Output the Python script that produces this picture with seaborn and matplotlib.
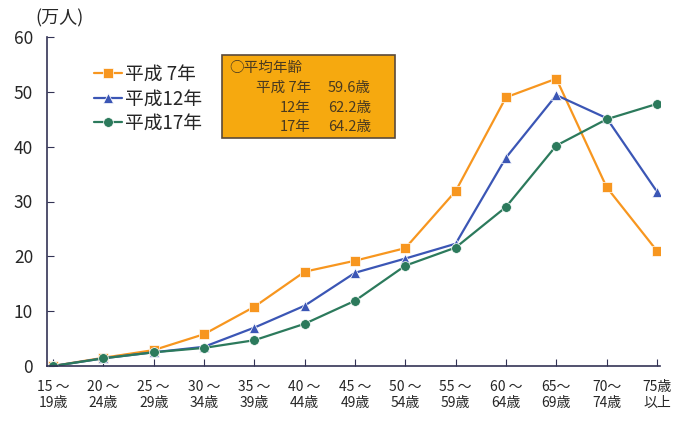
import matplotlib
matplotlib.use("Agg")
import matplotlib.pyplot as plt
import pandas as pd
import seaborn as sns
from matplotlib.patches import Rectangle

# age groups (x tick labels)
age_labels = ["15 ～\n19歳", "20 ～\n24歳", "25 ～\n29歳", "30 ～\n34歳",
              "35 ～\n39歳", "40 ～\n44歳", "45 ～\n49歳", "50 ～\n54歳",
              "55 ～\n59歳", "60 ～\n64歳", "65～\n69歳", "70～\n74歳",
              "75歳\n以上"]

# farm workers by age group (万人)
h7 = [0.0, 1.5, 2.9, 5.8, 10.8, 17.2, 19.2, 21.5, 31.9, 49.0, 52.4, 32.6, 21.0]
h12 = [0.0, 1.4, 2.5, 3.5, 7.0, 11.0, 17.0, 19.6, 22.3, 38.0, 49.4, 45.2, 31.8]
h17 = [0.0, 1.4, 2.5, 3.3, 4.7, 7.7, 11.9, 18.3, 21.6, 29.0, 40.2, 45.0, 47.8]

series_names = ["平成 7年", "平成12年", "平成17年"]
avg_age_years = ["平成 7年", "12年", "17年"]
avg_age_vals = ["59.6歳", "62.2歳", "64.2歳"]

palette = {"平成 7年": "#f7961f", "平成12年": "#3b56b5", "平成17年": "#2c7a5c"}
markers = {"平成 7年": "s", "平成12年": "^", "平成17年": "o"}

rows = []
for name, vals in zip(series_names, [h7, h12, h17]):
    for i, v in enumerate(vals):
        rows.append({"age": i, "value": v, "year": name})
df = pd.DataFrame(rows)

sns.set_style("white")
plt.rcParams['font.family'] = ['Noto Sans CJK JP', 'DejaVu Sans']

fig = plt.figure(figsize=(6.82, 4.24), dpi=100)
ax = fig.add_axes([47 / 682, 1 - 366 / 424, 613 / 682, 329 / 424])

sns.lineplot(data=df, x="age", y="value", hue="year", style="year",
             palette=palette, markers=markers, dashes=False,
             linewidth=1.6, markersize=7, markeredgewidth=0.5,
             hue_order=series_names, style_order=series_names, ax=ax)

ax.set_xlim(-0.12, 12.06)
ax.set_ylim(0, 60)
ax.set_yticks(range(0, 61, 10))
ax.set_xticks(range(len(age_labels)))
ax.set_xticklabels(age_labels, fontsize=10, linespacing=1.15)
ax.tick_params(axis='y', labelsize=12.5, direction='in', length=5, pad=10,
               left=True, color='#333355')
ax.tick_params(axis='x', direction='in', length=5, pad=10, bottom=True,
               color='#333355')
ax.set_xlabel("")
ax.set_ylabel("")
for s in ['top', 'right']:
    ax.spines[s].set_visible(False)
for s in ['left', 'bottom']:
    ax.spines[s].set_color('#333355')
    ax.spines[s].set_linewidth(1.2)

handles, labels = ax.get_legend_handles_labels()
ax.legend(handles, labels, loc='upper left',
          bbox_to_anchor=(86 / 682, 1 - 56 / 424),
          bbox_transform=fig.transFigure, borderaxespad=0,
          frameon=False, fontsize=13.5, handlelength=1.5, handletextpad=0.2,
          labelspacing=0.2)

fig.text(35 / 682, 1 - 18 / 424, "(万人)", fontsize=13, ha='left', va='center')

# average age box
box = Rectangle((222 / 682, 1 - 138 / 424), 173 / 682, 83 / 424,
                transform=fig.transFigure, facecolor='#f6a90f',
                edgecolor='#5a4a3a', linewidth=1.2)
fig.patches.append(box)
tc = '#4a3a20'
fig.text(229 / 682, 1 - 68 / 424, "○平均年齢", fontsize=10.5, color=tc,
         ha='left', va='center')
row_y = [88, 108, 127]
for y, yr, val in zip(row_y, avg_age_years, avg_age_vals):
    fig.text(311 / 682, 1 - y / 424, yr, fontsize=10.5, color=tc,
             ha='right', va='center')
    fig.text(328 / 682, 1 - y / 424, val, fontsize=10.5, color=tc,
             ha='left', va='center')

fig.savefig("out.png", dpi=100)
